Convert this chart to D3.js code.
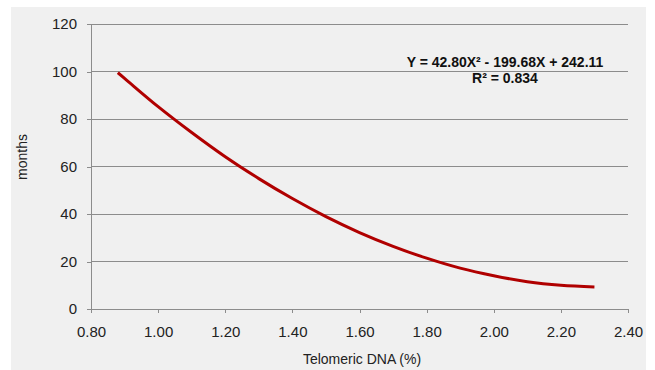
<!DOCTYPE html>
<html><head><meta charset="utf-8">
<script src="https://cdn.jsdelivr.net/npm/d3@7"></script>
<style>
body{margin:0;background:#fff;}
svg{display:block;font-family:"Liberation Sans",Arial,sans-serif;}
</style></head>
<body><svg id="c" width="655" height="370"></svg>
<script>
const telomericDNA = [0.88, 0.90, 1.00, 1.10, 1.20, 1.30, 1.40, 1.50, 1.60, 1.70, 1.80, 1.90, 2.00, 2.10, 2.20, 2.30];
const months = [99.5, 97.1, 85.2, 74.3, 64.1, 54.9, 46.5, 38.9, 32.2, 26.4, 21.4, 17.2, 14.0, 11.5, 10.0, 9.3];
const xTicks = [0.8, 1.0, 1.2, 1.4, 1.6, 1.8, 2.0, 2.2, 2.4];
const yTicks = [0, 20, 40, 60, 80, 100, 120];
const equationText = ["Y = 42.80X² - 199.68X + 242.11", "R² = 0.834"];

const svg = d3.select("#c");
svg.append("rect").attr("x",11).attr("y",7).attr("width",635).attr("height",363).attr("fill","#f0f0f0");

const x = d3.scaleLinear().domain([0.8,2.4]).range([91,628]);
const y = d3.scaleLinear().domain([0,120]).range([309,24]);

svg.append("g").selectAll("line").data(yTicks.filter(d=>d>0)).join("line")
  .attr("x1",x(0.8)).attr("x2",x(2.4)).attr("y1",d=>y(d)).attr("y2",d=>y(d))
  .attr("stroke","#8c8c8c").attr("stroke-width",1).attr("shape-rendering","crispEdges");

const yAxis = svg.append("g").attr("transform",`translate(${x(0.8)},0)`)
  .call(d3.axisLeft(y).tickValues(yTicks).tickSize(4).tickPadding(10).tickFormat(d3.format("d")));
const xAxis = svg.append("g").attr("transform",`translate(0,${y(0)})`)
  .call(d3.axisBottom(x).tickValues(xTicks).tickSize(4).tickPadding(13).tickFormat(d3.format(".2f")));
[yAxis,xAxis].forEach(a=>{
  a.select(".domain").attr("stroke","#8c8c8c").attr("shape-rendering","crispEdges");
  a.selectAll(".tick line").attr("stroke","#8c8c8c").attr("shape-rendering","crispEdges");
  a.selectAll("text").attr("fill","#222").style("font-family","'Liberation Sans',Arial,sans-serif").style("font-size","15px");
});

const pts = telomericDNA.map((d,i)=>[d,months[i]]);
svg.append("path").datum(pts)
  .attr("d", d3.line().x(d=>x(d[0])).y(d=>y(d[1])).curve(d3.curveMonotoneX))
  .attr("fill","none").attr("stroke","#b00000").attr("stroke-width",3);

svg.append("text").attr("x",505).attr("y",67).attr("text-anchor","middle")
  .style("font-size","14px").style("font-weight","bold").attr("fill","#111").text(equationText[0]);
svg.append("text").attr("x",505).attr("y",83).attr("text-anchor","middle")
  .style("font-size","14px").style("font-weight","bold").attr("fill","#111").text(equationText[1]);

svg.append("text").attr("transform","translate(27,157) rotate(-90)").attr("text-anchor","middle")
  .style("font-size","14px").attr("fill","#222").text("months");
svg.append("text").attr("x",362).attr("y",364).attr("text-anchor","middle")
  .style("font-size","14px").attr("fill","#222").text("Telomeric DNA (%)");
</script></body></html>
